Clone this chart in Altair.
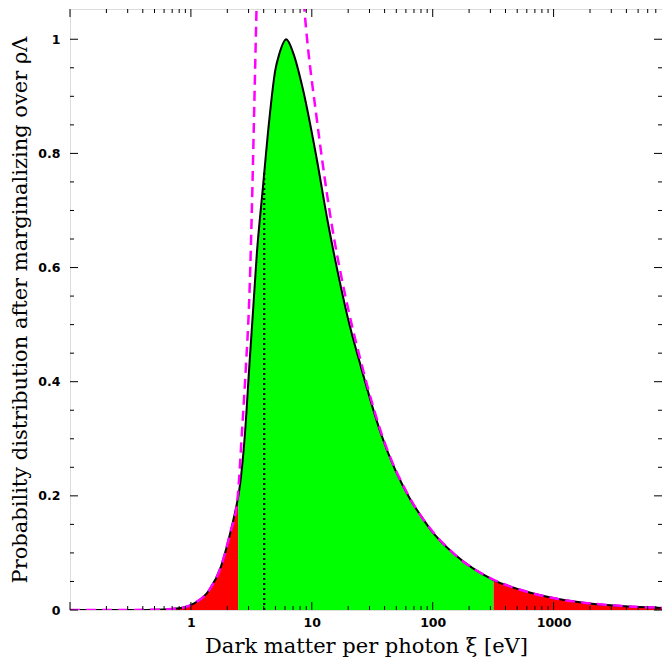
import altair as alt
import pandas as pd

# ---- data ----
XI = [0.1, 0.3, 0.6, 0.85, 1.065, 1.42, 1.77, 2.11, 2.43, 2.46, 2.80, 3.04, 3.28, 3.51,
      3.94, 4.44, 4.98, 5.38, 6.14, 7.07, 8.39, 10.8, 13.5, 17.4, 19.8, 25.5, 37.3, 66,
      79.9, 96.7, 150.6, 319, 537, 1011, 1910, 3600, 7880]
P = [0.0, 0.0, 0.001, 0.004, 0.0117, 0.035, 0.0757, 0.134, 0.192, 0.198, 0.309, 0.426,
     0.53, 0.624, 0.740, 0.857, 0.945, 0.974, 1.0, 0.974, 0.915, 0.799, 0.682, 0.566,
     0.513, 0.426, 0.309, 0.192, 0.165, 0.140, 0.098, 0.0525, 0.035, 0.0205, 0.0117,
     0.0068, 0.0037]

LEFT_ASYM_XI = [0.1, 0.5, 0.85, 1.065, 1.42, 1.77, 2.11, 2.43, 2.64, 2.85, 3.02, 3.47, 3.62]
LEFT_ASYM_P = [0.0, 0.0003, 0.004, 0.0117, 0.035, 0.0757, 0.134, 0.195, 0.309, 0.426, 0.53, 1.032, 1.2]

RIGHT_ASYM_XI = [8.0, 8.93, 11.0, 14.0, 20.4, 25.5, 37.3, 66, 96.7, 150.6, 319, 537, 1011, 1910, 3600, 7880]
RIGHT_ASYM_P = [1.15, 1.023, 0.86, 0.70, 0.519, 0.435, 0.312, 0.193, 0.141, 0.098, 0.053, 0.035,
                0.0205, 0.012, 0.0072, 0.0037]

LO_CUT = 2.46
HI_CUT = 319
MARK_XI = 4.04
MARK_P = 0.77

X_LABELS = [1, 10, 100, 1000]
Y_LABELS = [0, 0.2, 0.4, 0.6, 0.8, 1.0]
X_MAJOR = [0.1, 1, 10, 100, 1000]
X_MINOR = [k * d for d in [0.1, 1, 10, 100, 1000] for k in range(2, 10) if k * d < 7880]
Y_MAJOR = [0, 0.2, 0.4, 0.6, 0.8, 1.0]
Y_MINOR = [0.05, 0.1, 0.15, 0.25, 0.3, 0.35, 0.45, 0.5, 0.55, 0.65, 0.7, 0.75, 0.85, 0.9, 0.95]

W, H = 592, 601
XDOM = [0.1, 7880]
YDOM = [0, 1.053]

# ---- tables ----
curve = pd.DataFrame({"xi": XI, "p": P})
rows = []
for x, p in zip(XI, P):
    if x <= LO_CUT:
        rows.append({"xi": x, "p": p, "seg": "lo"})
    if LO_CUT <= x <= HI_CUT:
        rows.append({"xi": x, "p": p, "seg": "core"})
    if x >= HI_CUT:
        rows.append({"xi": x, "p": p, "seg": "hi"})
fill = pd.DataFrame(rows)
lasym = pd.DataFrame({"xi": LEFT_ASYM_XI, "p": LEFT_ASYM_P})
rasym = pd.DataFrame({"xi": RIGHT_ASYM_XI, "p": RIGHT_ASYM_P})
mark = pd.DataFrame({"xi": [MARK_XI], "p": [0.0], "p2": [MARK_P]})

xscale = alt.Scale(type="log", domain=XDOM, nice=False, zero=False)
yscale = alt.Scale(domain=YDOM, nice=False, zero=False)

xaxis = alt.Axis(values=X_LABELS, format="~g", ticks=False, domain=False, grid=False,
                 labelFont="DejaVu Sans", labelFontWeight="bold", labelFontSize=12.5,
                 labelColor="black", labelPadding=6, labelFlush=False,
                 title="Dark matter per photon ξ [eV]", titleFont="DejaVu Serif",
                 titleFontWeight="normal", titleFontSize=21, titleColor="black",
                 titleY=36, titleBaseline="middle")
yaxis = alt.Axis(values=Y_LABELS, format="~g", ticks=False, domain=False, grid=False,
                 labelFont="DejaVu Sans", labelFontWeight="bold", labelFontSize=12.5,
                 labelColor="black", labelPadding=10, labelFlush=False,
                 title="Probability distribution after marginalizing over ρΛ",
                 titleFont="DejaVu Serif", titleFontWeight="normal", titleFontSize=21,
                 titleColor="black", titleX=-50, titleY=H / 2, titleAngle=270,
                 titleBaseline="middle", titleAlign="center")

X = alt.X("xi:Q", scale=xscale, axis=xaxis)
Y = alt.Y("p:Q", scale=yscale, axis=yaxis, stack=None)

area = alt.Chart(fill).mark_area(interpolate="monotone", clip=True).encode(
    x=X, y=Y,
    color=alt.Color("seg:N", scale=alt.Scale(domain=["lo", "core", "hi"],
                                              range=["#ff0000", "#00ff00", "#ff0000"]),
                    legend=None),
    detail="seg:N",
)
line = alt.Chart(curve).mark_line(interpolate="monotone", color="black", strokeWidth=2,
                                  clip=True).encode(x=X, y=Y)
dotted = alt.Chart(mark).mark_rule(color="black", strokeWidth=2.2, strokeDash=[2, 3]).encode(
    x=X, y=Y, y2="p2:Q")
ldash = alt.Chart(lasym).mark_line(interpolate="monotone", color="#ff00ff", strokeWidth=2.5,
                                   strokeDash=[10, 6], clip=True).encode(x=X, y=Y)
rdash = alt.Chart(rasym).mark_line(interpolate="monotone", color="#ff00ff", strokeWidth=2.5,
                                   strokeDash=[10, 6], clip=True).encode(x=X, y=Y)


def xticks(vals, length):
    d = pd.DataFrame({"xi": vals})
    b = alt.Chart(d).mark_rule(color="black", strokeWidth=1).encode(
        x=X, y=alt.value(H), y2=alt.value(H - length))
    t = alt.Chart(d).mark_rule(color="black", strokeWidth=1).encode(
        x=X, y=alt.value(0), y2=alt.value(length))
    return [b, t]


def yticks(vals, length):
    d = pd.DataFrame({"p": vals})
    l = alt.Chart(d).mark_rule(color="black", strokeWidth=1).encode(
        y=Y, x=alt.value(0), x2=alt.value(length))
    r = alt.Chart(d).mark_rule(color="black", strokeWidth=1).encode(
        y=Y, x=alt.value(W), x2=alt.value(W - length))
    return [l, r]


ticks = xticks(X_MAJOR, 8) + xticks(X_MINOR, 4) + yticks(Y_MAJOR, 8) + yticks(Y_MINOR, 4)

chart = alt.layer(area, line, dotted, ldash, rdash, *ticks).properties(
    width=W, height=H,
    padding={"left": 62, "top": 1, "right": 0, "bottom": 50},
    autosize=alt.AutoSizeParams(type="none"),
).configure_view(stroke="black", strokeWidth=1.3).configure(background="white")

chart.save("out.html", embed_options={"renderer": "svg", "actions": False})
